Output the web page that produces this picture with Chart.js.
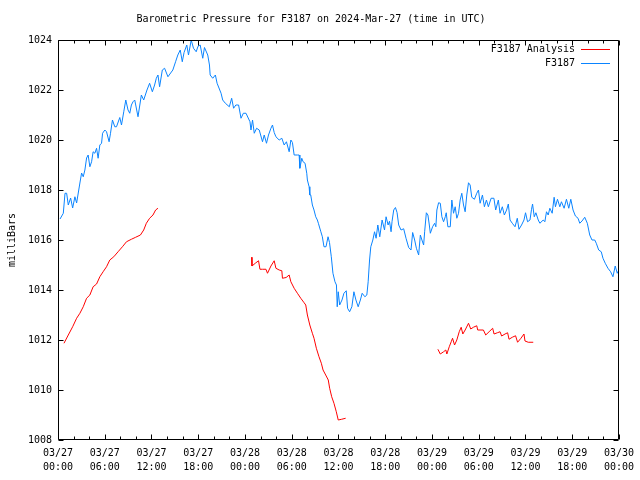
<!DOCTYPE html>
<html><head><meta charset="utf-8">
<script src="https://cdn.jsdelivr.net/npm/chart.js@4"></script>
<style>html,body{margin:0;padding:0;background:#fff}#wrap{width:640px;height:480px}</style>
</head><body><div id="wrap"><canvas id="c" width="640" height="480"></canvas></div>
<script>
// hours since 2024-03-27 00:00 UTC
const stationHours = [0.26,0.68,0.90,1.11,1.32,1.62,1.88,2.17,2.39,2.60,2.81,3.03,3.24,3.45,3.67,3.87,4.09,4.31,4.51,4.73,4.95,5.15,5.37,5.59,5.72,6.01,6.23,6.56,6.74,6.99,7.29,7.51,7.93,8.15,8.44,8.70,8.99,9.21,9.42,9.63,9.85,10.27,10.70,11.00,11.42,11.76,12.11,12.40,12.62,12.83,13.04,13.39,13.68,14.11,14.74,15.09,15.38,15.69,15.95,16.18,16.53,16.75,17.10,17.39,17.74,17.97,18.25,18.58,18.80,19.22,19.44,19.53,19.86,20.20,20.42,20.93,21.14,21.48,21.99,22.29,22.54,22.83,23.18,23.49,23.79,24.13,24.64,24.77,24.97,25.19,25.49,25.83,26.25,26.47,26.76,27.02,27.33,27.53,27.75,27.97,28.39,28.73,29.03,29.32,29.67,29.89,30.09,30.31,30.73,30.95,31.04,31.29,31.46,31.71,31.93,32.01,32.23,32.32,32.44,32.65,32.86,33.08,33.29,33.42,33.72,33.93,34.14,34.40,34.66,34.85,35.08,35.29,35.55,35.74,35.84,35.97,36.15,36.45,36.70,37.00,37.17,37.43,37.72,37.98,38.24,38.53,38.81,39.04,39.39,39.64,39.81,39.99,40.15,40.41,40.63,40.83,41.05,41.30,41.60,41.91,42.11,42.37,42.55,42.75,42.88,43.09,43.31,43.52,43.73,44.03,44.37,44.67,45.01,45.31,45.52,45.78,46.00,46.29,46.51,46.71,46.93,47.06,47.28,47.48,47.66,47.79,48.08,48.34,48.50,48.63,48.85,49.07,49.27,49.49,49.71,49.83,50.04,50.35,50.55,50.77,50.98,51.19,51.41,51.62,51.83,52.05,52.26,52.47,52.69,52.90,53.11,53.45,53.75,53.97,54.18,54.48,54.73,54.99,55.24,55.59,55.95,56.18,56.52,56.74,57.03,57.29,57.58,57.80,58.02,58.31,58.66,58.95,59.17,59.50,59.81,60.01,60.27,60.58,60.78,60.91,61.13,61.34,61.64,61.85,62.28,62.49,62.70,62.92,63.13,63.43,63.68,63.85,64.11,64.41,64.62,64.96,65.26,65.56,65.82,66.11,66.41,66.75,66.97,67.26,67.61,67.94,68.25,68.54,68.89,69.09,69.40,69.73,69.95,70.24,70.59,70.93,71.23,71.52,71.78,72.00];
const stationValues = [1016.84,1017.07,1017.87,1017.87,1017.40,1017.68,1017.28,1017.73,1017.48,1017.88,1018.28,1018.68,1018.53,1018.80,1019.28,1019.40,1018.93,1019.13,1019.53,1019.47,1019.67,1019.27,1019.80,1019.87,1020.27,1020.40,1020.33,1019.93,1020.27,1020.80,1020.53,1020.53,1020.90,1020.60,1021.13,1021.60,1021.20,1021.07,1021.40,1021.53,1021.60,1020.93,1021.80,1021.60,1022.00,1022.27,1021.93,1022.20,1022.47,1022.60,1022.13,1022.80,1022.87,1022.53,1022.80,1023.13,1023.40,1023.60,1023.13,1023.50,1023.80,1023.40,1024.00,1023.67,1023.53,1023.75,1023.80,1023.27,1023.70,1023.40,1023.00,1022.60,1022.47,1022.60,1022.27,1021.87,1021.60,1021.47,1021.33,1021.67,1021.27,1021.40,1021.40,1020.87,1021.07,1021.07,1020.73,1020.40,1020.80,1020.27,1020.47,1020.40,1019.93,1020.20,1019.87,1020.20,1020.47,1020.60,1020.30,1020.13,1020.00,1020.07,1019.80,1019.93,1019.53,1020.00,1019.90,1019.40,1019.40,1019.40,1018.87,1019.27,1019.13,1019.07,1018.67,1018.40,1018.13,1017.80,1017.80,1017.40,1017.20,1016.93,1016.80,1016.67,1016.35,1016.13,1015.73,1015.73,1016.13,1015.90,1015.33,1014.67,1014.33,1014.20,1013.33,1013.93,1013.40,1013.60,1013.87,1013.97,1013.27,1013.13,1013.33,1013.93,1013.60,1013.33,1013.60,1013.87,1013.73,1013.80,1014.33,1015.20,1015.73,1016.00,1016.33,1016.07,1016.60,1016.13,1016.80,1016.40,1016.93,1016.60,1016.75,1016.33,1016.75,1017.20,1017.30,1017.10,1016.60,1016.40,1016.45,1016.07,1015.70,1015.60,1016.30,1016.00,1015.67,1015.40,1016.20,1016.00,1015.80,1016.33,1017.09,1017.00,1016.60,1016.27,1016.53,1016.67,1016.53,1017.20,1017.49,1017.47,1016.93,1016.73,1016.93,1017.09,1016.53,1016.53,1017.60,1017.07,1017.33,1016.87,1017.07,1017.60,1017.87,1017.40,1017.13,1017.80,1018.29,1018.20,1017.71,1017.63,1017.87,1018.00,1017.47,1017.80,1017.33,1017.60,1017.33,1017.67,1017.67,1017.20,1017.60,1017.07,1017.33,1017.00,1017.20,1017.44,1016.80,1016.67,1016.53,1016.87,1016.43,1016.60,1016.80,1017.09,1016.73,1016.80,1017.23,1017.44,1016.93,1017.09,1016.80,1016.67,1016.80,1016.73,1017.13,1017.00,1017.27,1017.07,1017.71,1017.33,1017.63,1017.33,1017.53,1017.27,1017.63,1017.27,1017.63,1017.20,1016.96,1016.87,1016.67,1016.76,1016.91,1016.67,1016.20,1016.00,1016.00,1015.87,1015.60,1015.53,1015.27,1015.07,1014.87,1014.73,1014.53,1014.96,1014.67,1014.80];
// null marks a gap between analysis runs
const analysisHours = [0.77,1.32,1.88,2.39,2.81,3.24,3.67,4.09,4.51,4.95,5.37,5.79,6.23,6.65,7.16,7.71,8.27,8.79,9.42,9.97,10.58,11.00,11.34,11.76,12.19,12.53,12.83,
  18.0,
  24.85,24.90,25.32,25.74,25.92,26.25,26.69,26.89,27.33,27.75,27.97,28.39,28.73,28.81,29.28,29.67,29.89,30.31,30.73,31.16,31.59,31.80,32.01,32.32,32.65,32.86,33.16,33.50,33.80,34.02,34.36,34.69,34.87,35.13,35.42,35.72,35.97,36.41,36.92,
  42.0,
  48.76,49.07,49.49,49.78,49.91,50.22,50.47,50.64,50.90,51.19,51.50,51.75,51.96,52.26,52.69,52.98,53.32,53.75,53.87,54.60,54.90,55.33,55.79,55.97,56.39,56.74,56.94,57.38,57.71,57.89,58.31,58.73,58.99,59.42,59.81,59.94,60.36,61.00];
const analysisValues = [1011.87,1012.20,1012.53,1012.87,1013.07,1013.33,1013.67,1013.80,1014.13,1014.24,1014.53,1014.73,1014.93,1015.20,1015.33,1015.53,1015.73,1015.93,1016.03,1016.11,1016.20,1016.40,1016.67,1016.87,1017.00,1017.20,1017.27,
  null,
  1015.31,1014.96,1015.07,1015.17,1014.83,1014.83,1014.83,1014.67,1014.96,1015.17,1014.87,1014.80,1014.77,1014.47,1014.50,1014.60,1014.33,1014.07,1013.87,1013.67,1013.49,1013.40,1013.00,1012.60,1012.27,1012.07,1011.67,1011.33,1011.07,1010.80,1010.60,1010.40,1010.07,1009.73,1009.47,1009.13,1008.80,1008.83,1008.87,
  null,
  1011.63,1011.44,1011.53,1011.60,1011.44,1011.73,1011.93,1012.07,1011.80,1012.00,1012.33,1012.51,1012.24,1012.40,1012.67,1012.44,1012.51,1012.57,1012.40,1012.40,1012.20,1012.33,1012.47,1012.24,1012.29,1012.33,1012.16,1012.24,1012.29,1012.03,1012.11,1012.17,1011.91,1012.07,1012.24,1011.96,1011.91,1011.91];
const xTickDates = ['03/27','03/27','03/27','03/27','03/28','03/28','03/28','03/28','03/29','03/29','03/29','03/29','03/30'];
const xTickTimes = ['00:00','06:00','12:00','18:00','00:00','06:00','12:00','18:00','00:00','06:00','12:00','18:00','00:00'];
const yTickValues = [1008,1010,1012,1014,1016,1018,1020,1022,1024];
const seriesNames = ['F3187 Analysis','F3187'];
const seriesColors = ['#ff0000','#0a84ff'];

const FONT = "'DejaVu Sans Mono', 'Liberation Mono', monospace";

function pts(xs, ys){ return xs.map((h,i)=>({x:h, y:ys[i]})); }

const framePlugin = {
  id: 'frame',
  afterDatasetsDraw(chart){
    const {ctx, chartArea:a, scales:{x, y}} = chart;
    ctx.save();
    ctx.strokeStyle = '#000';
    ctx.lineWidth = 1;
    ctx.setLineDash([]);
    ctx.beginPath();
    const L = Math.round(a.left)+0.5, R = Math.round(a.right)-0.5, T = Math.round(a.top)+0.5, B = Math.round(a.bottom)-0.5;
    ctx.rect(L, T, R-L, B-T);
    for (let h = 0; h <= 72; h += 2) {
      const px = Math.round(x.getPixelForValue(h)) + 0.5;
      const len = (h % 6 === 0) ? 5 : 3;
      ctx.moveTo(px, B); ctx.lineTo(px, B - len);
      ctx.moveTo(px, T); ctx.lineTo(px, T + len);
    }
    yTickValues.forEach(v => {
      const py = Math.round(y.getPixelForValue(v)) + 0.5;
      ctx.moveTo(L, py); ctx.lineTo(L + 5, py);
      ctx.moveTo(R, py); ctx.lineTo(R - 5, py);
    });
    ctx.stroke();
    ctx.restore();
    // key
    chart.data.datasets.forEach((ds, i) => {
      const ky = 49 + i * 14;
      ctx.save();
      ctx.font = '10px ' + FONT;
      ctx.fillStyle = '#000';
      ctx.textAlign = 'right';
      ctx.textBaseline = 'middle';
      ctx.fillText(ds.label, 575, ky);
      ctx.fillStyle = seriesColors[i];
      ctx.fillRect(581, ky, 29, 1);
      ctx.restore();
    });
  }
};

new Chart(document.getElementById('c'), {
  type: 'line',
  data: {
    datasets: [
      { label: seriesNames[0], data: pts(analysisHours, analysisValues), borderColor: seriesColors[0], borderWidth: 1, pointRadius: 0, tension: 0, spanGaps: false },
      { label: seriesNames[1], data: pts(stationHours, stationValues), borderColor: seriesColors[1], borderWidth: 1, pointRadius: 0, tension: 0 }
    ]
  },
  options: {
    responsive: false,
    animation: false,
    devicePixelRatio: 1,
    layout: { padding: { left: 0, right: 18, top: 0, bottom: 0 } },
    plugins: {
      legend: { display: false },
      tooltip: { enabled: false },
      title: {
        display: true,
        text: 'Barometric Pressure for F3187 on 2024-Mar-27 (time in UTC)',
        color: '#000',
        font: { family: FONT, size: 10, weight: 'normal', lineHeight: 1.2 },
        padding: { top: 13, bottom: 15 }
      }
    },
    scales: {
      x: {
        type: 'linear', min: 0, max: 72,
        grid: { display: false, drawTicks: false },
        border: { display: false },
        afterFit: s => { s.height = 40; },
        afterBuildTicks: s => { s.ticks = xTickDates.map((d, i) => ({ value: i * 6 })); },
        ticks: {
          autoSkip: false, maxRotation: 0, minRotation: 0, padding: 6, color: '#000',
          font: { family: FONT, size: 10, lineHeight: 1.4 },
          callback: v => (v % 6 === 0 ? [xTickDates[v / 6], xTickTimes[v / 6]] : '')
        }
      },
      y: {
        min: 1008, max: 1024,
        grid: { display: false, drawTicks: false },
        border: { display: false },
        afterFit: s => { s.width = 58; },
        afterBuildTicks: s => { s.ticks = yTickValues.map(v => ({ value: v })); },
        ticks: { padding: 6, color: '#000', font: { family: FONT, size: 10 }, callback: v => String(v) },
        title: { display: true, text: 'milliBars', color: '#000', font: { family: FONT, size: 10, lineHeight: 1.2 }, padding: { top: 6, bottom: 0 } }
      }
    }
  },
  plugins: [framePlugin]
});
</script>
</body></html>
